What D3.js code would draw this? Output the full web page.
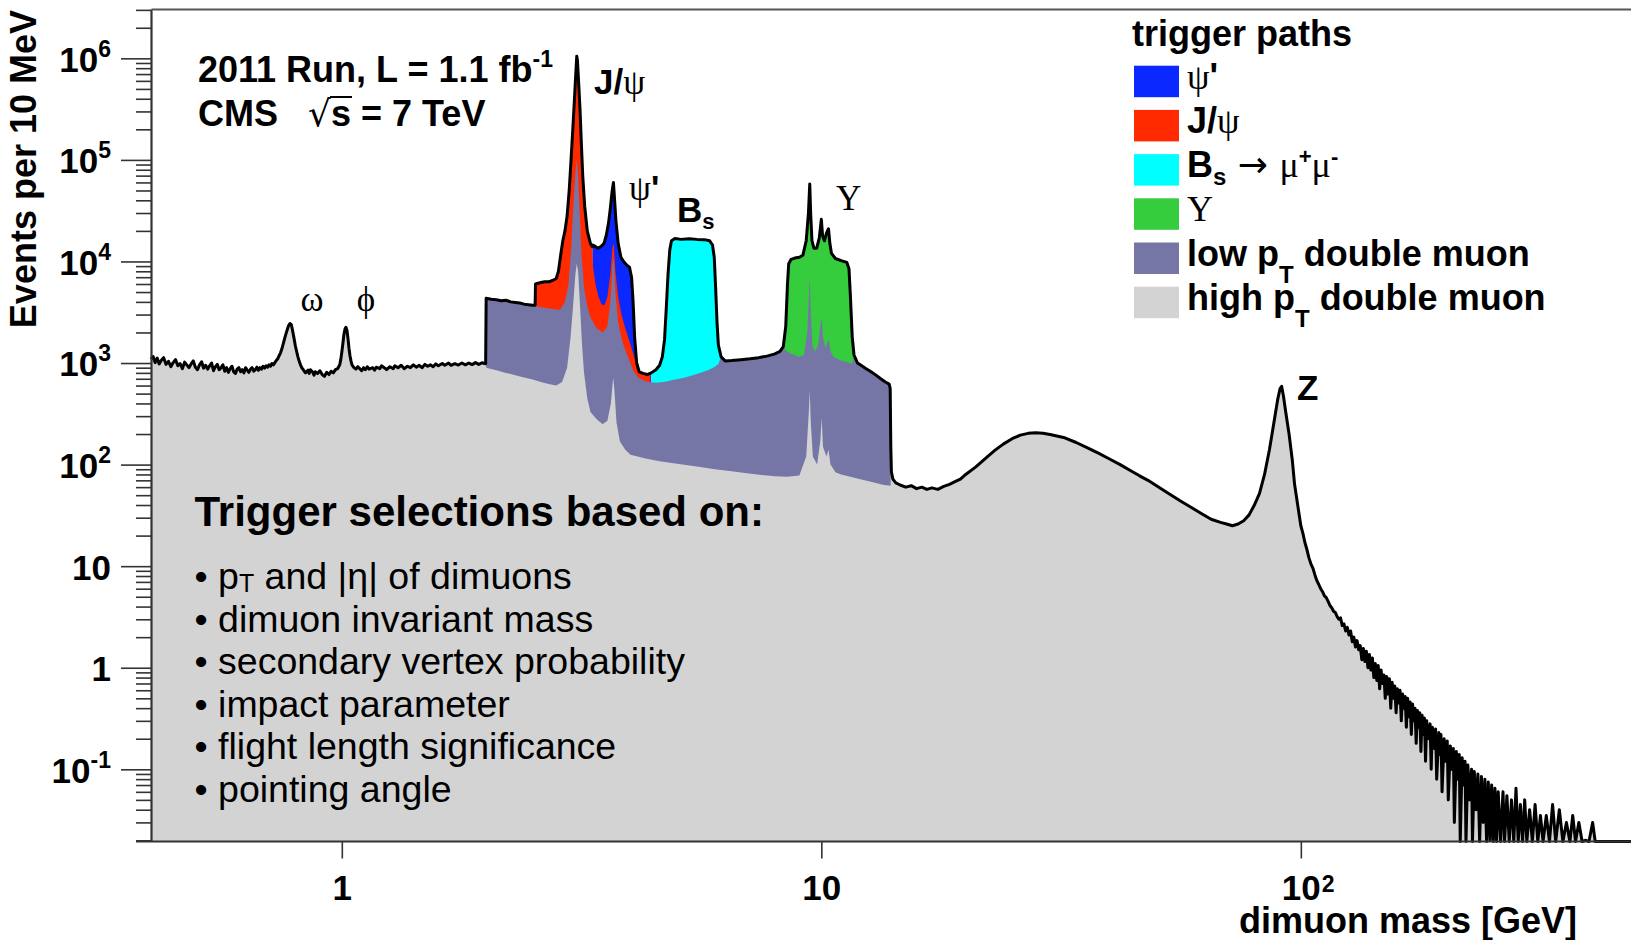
<!DOCTYPE html>
<html>
<head>
<meta charset="utf-8">
<script src="https://cdn.jsdelivr.net/npm/d3@7"></script>
<style>
  body { margin: 0; background: #fff; }
  svg { display: block; background: #fff; }
  text { font-family: "Liberation Sans", Arial, sans-serif; fill: #000; white-space: pre; }
  .serif { font-family: "Liberation Serif", "DejaVu Serif", serif; font-weight: normal; }
  .sym { font-family: "DejaVu Sans", sans-serif; font-weight: normal; }
</style>
</head>
<body>
<div id="chart"></div>
<script>
// dimuon spectrum, all trigger paths stacked: [mass GeV, events per 10 MeV]
var totalSpectrum = [
  [0.400,1090],[0.404,1160],[0.408,1010],[0.412,1120],[0.416,980],[0.42,1060],[0.425,1130],[0.43,970],
  [0.435,1040],[0.44,920],[0.445,1010],[0.45,1080],[0.455,940],[0.46,990],[0.465,880],[0.47,1020],
  [0.475,960],[0.48,900],[0.485,980],[0.49,1050],[0.495,910],[0.50,860],[0.505,960],[0.51,1030],
  [0.515,890],[0.52,950],[0.525,870],[0.53,940],[0.535,1000],[0.54,840],[0.545,920],[0.55,970],
  [0.555,860],[0.56,900],[0.565,960],[0.57,830],[0.575,900],[0.58,810],[0.585,880],[0.59,930],
  [0.595,820],[0.60,790],[0.605,870],[0.61,900],[0.615,820],[0.62,860],[0.625,800],[0.63,900],
  [0.635,850],[0.64,810],[0.645,870],[0.65,900],[0.655,830],[0.66,860],[0.665,910],[0.67,850],
  [0.675,900],[0.68,870],[0.685,930],[0.69,890],[0.695,940],[0.70,910],[0.705,960],[0.71,930],
  [0.715,990],[0.72,960],[0.725,1010],[0.73,1060],[0.735,1100],[0.74,1180],[0.745,1260],[0.75,1380],
  [0.755,1550],[0.76,1750],[0.765,1950],[0.77,2150],[0.775,2350],[0.78,2450],[0.785,2380],[0.79,2050],
  [0.795,1750],[0.80,1480],[0.805,1300],[0.81,1150],[0.815,1040],[0.82,960],[0.825,900],[0.83,870],
  [0.835,830],[0.84,800],[0.85,850],[0.855,790],[0.86,860],[0.87,810],[0.875,760],[0.88,820],
  [0.89,790],[0.90,840],[0.91,770],[0.92,740],[0.93,810],[0.94,770],[0.95,830],[0.96,800],
  [0.97,860],[0.98,880],[0.99,960],[0.995,1080],[1.00,1280],[1.005,1550],[1.01,1900],[1.015,2150],
  [1.02,2250],[1.025,2100],[1.03,1750],[1.035,1400],[1.04,1180],[1.045,1050],[1.05,960],[1.06,900],
  [1.07,870],[1.08,920],[1.09,880],[1.10,840],[1.11,900],[1.12,860],[1.13,920],[1.14,870],
  [1.16,900],[1.17,850],[1.18,910],[1.20,880],[1.21,940],[1.23,890],[1.24,860],[1.26,920],
  [1.28,880],[1.29,940],[1.31,900],[1.33,950],[1.35,880],[1.37,930],[1.39,900],[1.41,960],
  [1.43,910],[1.45,950],[1.47,900],[1.49,970],[1.51,930],[1.53,960],[1.55,920],[1.57,980],
  [1.59,940],[1.62,990],[1.64,950],[1.67,1000],[1.69,950],[1.72,985],[1.75,955],[1.78,1000],
  [1.81,960],[1.84,1000],[1.87,965],[1.90,1010],[1.93,970],[1.96,1005],[1.995,985],
  [2.0,4350],[2.05,4250],[2.1,4200],[2.15,4100],[2.2,4150],[2.25,4000],[2.3,3950],[2.35,3900],
  [2.4,3800],[2.45,3750],[2.5,3700],[2.53,3700],[2.535,6000],[2.6,6200],[2.65,6300],[2.7,6300],
  [2.75,6500],[2.8,6800],[2.83,8000],[2.86,11500],[2.89,16000],[2.92,20000],[2.95,28000],[2.98,50000],
  [3.01,110000],[3.04,250000],[3.07,600000],[3.09,1050000],[3.10,950000],[3.12,550000],[3.14,300000],
  [3.16,140000],[3.18,70000],[3.21,35000],[3.25,20000],[3.30,15000],[3.33,14000],[3.34,14500],
  [3.38,14000],[3.42,13500],[3.47,14000],[3.52,15000],[3.56,18000],[3.60,24000],[3.63,33000],
  [3.66,48000],[3.685,60000],[3.70,45000],[3.73,25000],[3.77,15000],[3.82,11000],[3.87,10000],
  [3.93,9200],[3.98,8800],[4.02,7000],[4.05,4000],[4.08,1800],[4.12,1000],[4.17,820],[4.25,790],
  [4.33,770],[4.42,800],[4.52,860],[4.6,950],[4.66,1150],[4.71,1700],[4.75,3500],[4.79,7500],
  [4.83,13000],[4.87,16000],[4.95,16800],[5.1,16500],[5.3,16700],[5.5,16500],[5.7,16400],
  [5.85,16000],[5.93,14500],[5.98,11000],[6.02,5500],[6.06,2500],[6.1,1500],[6.18,1150],[6.3,1050],
  [6.5,1060],[6.8,1080],[7.1,1100],[7.4,1130],[7.7,1170],[8.0,1230],[8.2,1300],[8.33,1450],
  [8.43,2300],[8.5,6000],[8.55,9500],[8.65,10500],[8.8,10800],[9.0,11000],[9.15,11500],[9.3,16000],
  [9.4,30000],[9.46,58000],[9.5,30000],[9.56,16000],[9.65,13500],[9.78,13500],[9.9,17000],
  [10.0,26000],[10.06,18000],[10.15,16000],[10.25,19000],[10.35,21000],[10.42,15000],[10.5,12000],
  [10.7,10700],[11.0,10200],[11.3,9800],[11.42,8500],[11.5,4500],[11.6,1800],[11.7,1200],
  [11.9,1000],[12.1,950],[12.4,880],[12.7,820],[13.0,760],[13.3,700],[13.6,650],[13.85,620],
  [13.92,560],[13.96,150],[14.0,85],[14.1,72],[14.3,66],[14.6,63],[15.0,60],[15.4,62],[15.8,58],
  [16.2,60],[16.6,57],[17.0,59],[17.5,57],[18.0,61],[18.5,64],[19.0,68],[19.5,72],[20.0,80],
  [21.0,95],[22.0,115],[23.0,138],[24.0,160],[25.0,180],[26.0,195],[27.0,203],[28.0,206],
  [29.0,204],[30.0,198],[32.0,185],[34.0,165],[36.0,145],[38.0,128],[40.0,113],[42.0,100],
  [44.0,88],[46.0,78],[48.0,70],[50.0,62],[53.0,52],[56.0,44],[59.0,38],[62.0,33],[65.0,29],
  [68.0,27],[70.0,26],[72.0,25],[74.0,26],[76.0,28],[78.0,32],[80.0,40],[82.0,52],[84.0,80],
  [86.0,140],[88.0,270],[89.5,440],[90.5,560],[91.2,590],[92.0,470],[93.0,330],[94.5,200],
  [96,110],[97,65],[98.5,40],[100,25],[101,21],[102,17],[103,14.5],[104,12],[105,10.5],[106,9.5],
  [107,8.2],[108,7.2],[109,6.6],[110,6],[111,5.6],[112,5.1],[113,4.9],[114,4.5],[115,4.1],[116,3.9],
  [117,3.6],[118,3.5],[119,3.2],[120,3.0],[121,3.1],[122,2.6],[123,2.7],[124,2.3],[125,2.5],
  [126,2.1],[127,2.3],[128,1.8],[129,2.0],[130,1.6],[131,1.85],[132,1.5],[133,1.65],[134,1.2],
  [135,1.55],[136,1.15],[137,1.45],[138,1.0],[139,1.35],[140,0.95],[141,1.25],[142,0.8],[143,1.1],
  [144,0.75],[145,1.05],[146,0.62],[147,0.95],[148,0.7],[149,0.85],[150,0.5],[151,0.82],[152,0.55],
  [153,0.78],[154,0.4],[155,0.72],[156,0.5],[157,0.66],[158,0.36],[159,0.62],[160,0.45],[161,0.6],
  [162,0.3],[163,0.55],[164,0.4],[165,0.52],[166,0.26],[167,0.5],[168,0.33],[169,0.46],[170,0.22],
  [171,0.44],[172,0.3],[173,0.4],[174,0.18],[175,0.38],[176,0.26],[177,0.36],[178,0.15],[179,0.34],
  [180,0.22],[181,0.32],[182,0.12],[183,0.3],[184,0.2],[186,0.28],[187,0.1],[188,0.26],[190,0.16],
  [191,0.25],[192,0.08],[194,0.23],[195,0.14],[196,0.22],[197,0.06],[199,0.2],[200,0.12],[202,0.19],
  [203,0.05],[205,0.17],[206,0.1],[208,0.16],[209,0.03],[211,0.15],[212,0.08],[214,0.14],[215,0],
  [217,0.13],[218,0.07],[220,0.12],[221,0],[223,0.11],[225,0.05],[227,0.1],[228,0],[230,0.095],
  [232,0.04],[234,0.09],[236,0],[238,0.085],[240,0.03],[242,0.08],[244,0],[246,0.075],[248,0.02],
  [250,0.07],[252,0],[254,0.065],[256,0.015],[258,0.06],[261,0],[264,0.06],[266,0],[269,0.055],
  [272,0.01],[275,0.05],[278,0],[281,0.065],[284,0],[287,0.045],[290,0.01],[293,0.05],[296,0],
  [300,0.04],[304,0],[308,0.045],[312,0],[316,0.035],[320,0.01],[325,0.035],[330,0],[335,0.045],
  [340,0],[346,0.04],[352,0],[358,0.03],[364,0],[369,0.035],[374,0],[380,0.03],[386,0],[393,0.02],
  [399,0],[406,0.03],[411,0],[500,0]
];

// J/psi path stacked top where it hides under the psi' path
var jpsiUnderPsiPrime = [
  [3.34,9000],[3.38,6000],[3.43,4500],[3.48,3800],[3.53,3700],[3.58,4500],[3.63,7500],[3.67,14000],
  [3.69,15000],[3.72,8000],[3.77,4500],[3.83,3000],[3.9,2200],[3.97,1700],[4.05,1250],[4.12,950],
  [4.2,820],[4.3,780],[4.4,770]
];

// low pT double muon stacked top where trigger paths sit above it
var lowPtUnderTriggers = [
  [2.55,3600],[2.65,3500],[2.75,3400],[2.85,3350],[2.92,4000],[2.97,6000],[3.01,14000],[3.04,35000],
  [3.07,75000],[3.09,100000],[3.11,70000],[3.13,35000],[3.16,12000],[3.2,5500],[3.25,3600],[3.3,2800],
  [3.4,2200],[3.5,2000],[3.58,2300],[3.63,4000],[3.67,9000],[3.69,11000],[3.72,5000],[3.77,2500],
  [3.85,1600],[3.95,1150],[4.05,850],[4.15,720],[4.3,660],[4.5,640],[4.7,650],[4.9,680],[5.2,720],
  [5.5,780],[5.8,850],[6.0,920],[6.1,980],
  [8.4,1350],[8.6,1250],[8.8,1200],[9.0,1150],[9.2,1200],[9.35,2000],[9.42,4500],[9.46,7000],
  [9.5,3500],[9.58,1500],[9.7,1300],[9.85,1500],[9.97,2500],[10.02,2800],[10.08,1800],[10.2,1400],
  [10.3,1600],[10.36,1700],[10.45,1300],[10.6,1150],[10.9,1080],[11.2,1030],[11.5,1000],[11.6,990]
];

// high pT double muon inside the 2-14 GeV window
var highPtInner = [
  [2.0,900],[2.1,850],[2.2,800],[2.3,760],[2.4,720],[2.5,690],[2.6,650],[2.7,620],[2.8,600],
  [2.88,650],[2.95,900],[3.0,1800],[3.04,4000],[3.07,7500],[3.09,9500],[3.11,8000],[3.14,3500],
  [3.17,1500],[3.2,800],[3.25,450],[3.3,330],[3.4,280],[3.5,250],[3.58,270],[3.64,400],[3.68,720],
  [3.7,560],[3.74,260],[3.8,170],[3.9,140],[4.0,125],[4.3,115],[4.6,108],[5.0,102],[5.5,96],
  [6.0,90],[6.5,86],[7.0,82],[7.5,79],[8.0,77],[8.5,76],[9.0,78],[9.3,120],[9.42,340],
  [9.46,540],[9.5,280],[9.6,120],[9.8,100],[9.95,170],[10.02,290],[10.08,150],[10.25,120],
  [10.35,140],[10.45,100],[10.7,84],[11.0,80],[11.5,76],[12.0,72],[12.5,69],[13.0,66],[13.5,63],
  [13.96,62]
];

var yTickValues = [1e-1, 1, 10, 1e2, 1e3, 1e4, 1e5, 1e6];
var yTickBase = ['10', '1', '10', '10', '10', '10', '10', '10'];
var yTickExp = ['-1', '', '', '2', '3', '4', '5', '6'];
var xTickValues = [1, 10, 100];
var xTickBase = ['1', '10', '10'];
var xTickExp = ['', '', '2'];

var legendColors = ['#0a28ff', '#ff2a00', '#00ffff', '#35cc3d', '#7676a6', '#d3d3d3'];
var selectionLines = ['dimuon invariant mass', 'secondary vertex probability', 'impact parameter',
  'flight length significance', 'pointing angle'];

var W = 1631, H = 940;
var svg = d3.select('#chart').append('svg').attr('width', W).attr('height', H);

var x = d3.scaleLog().domain([0.4, 500]).range([151, 1636]);
var y = d3.scaleLog().domain([0.01946, 3.06e6]).range([841.5, 9]);
var yMin = y.domain()[0];
var bottom = y.range()[0];

function between(lo, hi) {
    return function (d) { return d[0] >= lo && d[0] <= hi; };
}
function byMass(a, b) { return a[0] - b[0]; }
var yv = function (d) { return y(Math.max(d[1], yMin)); };

var area = d3.area().x(function (d) { return x(d[0]); }).y0(bottom).y1(yv);
var line = d3.line().x(function (d) { return x(d[0]); }).y(yv);

// stacked layers, drawn from the top of the stack down
var layers = [
    { color: legendColors[0], data: totalSpectrum.filter(between(3.33, 4.5)) },
    { color: legendColors[1], data: totalSpectrum.filter(between(2.535, 3.33)).concat(jpsiUnderPsiPrime) },
    { color: legendColors[2], data: totalSpectrum.filter(between(4.42, 6.4)) },
    { color: legendColors[3], data: totalSpectrum.filter(between(8.33, 11.7)) },
    { color: legendColors[4], data: totalSpectrum.filter(function (d) {
            return (d[0] >= 2.0 && d[0] <= 2.53) || (d[0] >= 6.15 && d[0] <= 8.34) || (d[0] >= 11.65 && d[0] <= 13.96);
        }).concat(lowPtUnderTriggers).sort(byMass) },
    { color: legendColors[5], data: totalSpectrum.filter(function (d) { return d[0] < 2.0; })
            .concat(highPtInner, totalSpectrum.filter(function (d) { return d[0] >= 14.0; })) }
];

var plot = svg.append('g');
plot.selectAll('path.layer')
    .data(layers)
    .enter()
    .append('path')
    .attr('class', 'layer')
    .attr('d', function (l) { return area(l.data); })
    .attr('fill', function (l) { return l.color; });

plot.append('path')
    .attr('d', line(totalSpectrum))
    .attr('fill', 'none')
    .attr('stroke', '#000')
    .attr('stroke-width', 3)
    .attr('stroke-linejoin', 'round');

// axes
function styleAxis(g) {
    g.attr('font-family', null).attr('font-size', null).attr('color', '#333');
    g.selectAll('line').attr('stroke-width', 1.6);
    g.select('.domain').attr('stroke-width', 2.2);
}

var minorY = [];
for (var k = -2; k <= 6; k++) {
    for (var j = 2; j <= 9; j++) {
        var v = j * Math.pow(10, k);
        if (v > yMin && v < y.domain()[1]) minorY.push(v);
    }
}

svg.append('g')
    .attr('transform', 'translate(' + x.range()[0] + ',0)')
    .call(d3.axisLeft(y).tickValues(minorY).tickSize(15).tickSizeOuter(0).tickFormat(''))
    .call(styleAxis)
    .select('.domain').remove();

var yAxis = svg.append('g')
    .attr('transform', 'translate(' + x.range()[0] + ',0)')
    .call(d3.axisLeft(y).tickValues(yTickValues).tickSize(30).tickSizeOuter(0).tickPadding(10))
    .call(styleAxis);

yAxis.selectAll('.tick text').each(function (d, i) {
    var t = d3.select(this).text('').attr('dy', '0.37em')
        .attr('font-size', 35).attr('font-weight', 'bold');
    t.append('tspan').text(yTickBase[i]);
    if (yTickExp[i]) t.append('tspan').attr('dy', -15).attr('font-size', 23).text(yTickExp[i]);
});

// top frame line
svg.append('g')
    .attr('transform', 'translate(0,' + y.range()[1] + ')')
    .call(d3.axisTop(x).tickValues([]).tickSizeOuter(0))
    .call(styleAxis)
    .select('.domain').attr('stroke', '#555');

var xAxis = svg.append('g')
    .attr('transform', 'translate(0,' + bottom + ')')
    .call(d3.axisBottom(x).tickValues(xTickValues).tickSize(17).tickSizeOuter(0).tickPadding(17))
    .call(styleAxis);

xAxis.select('.domain').attr('d', 'M' + (x.range()[0] - 15) + ',0H' + x.range()[1]);

xAxis.selectAll('.tick text').each(function (d, i) {
    d3.select(this).text(xTickBase[i]).attr('font-size', 35).attr('font-weight', 'bold');
    if (xTickExp[i]) {
        var half = this.getComputedTextLength() / 2;
        d3.select(this.parentNode).append('text')
            .attr('x', half + 1).attr('y', 50)
            .attr('text-anchor', 'start')
            .attr('font-size', 23).attr('font-weight', 'bold')
            .attr('fill', '#000').text(xTickExp[i]);
    }
});

// axis titles
svg.append('text')
    .attr('x', 1577).attr('y', 933)
    .attr('text-anchor', 'end')
    .attr('font-size', 36).attr('font-weight', 'bold')
    .text('dimuon mass [GeV]');

svg.append('text')
    .attr('transform', 'rotate(-90)')
    .attr('x', -10).attr('y', 36)
    .attr('text-anchor', 'end')
    .attr('font-size', 36).attr('font-weight', 'bold')
    .text('Events per 10 MeV');

// rich text helper: parts are {t, cls, shift, small}
function rich(sel, parts) {
    var off = 0;
    parts.forEach(function (p) {
        var want = p.shift || 0;
        var ts = sel.append('tspan').attr('dy', want - off).text(p.t);
        off = want;
        if (p.cls) ts.attr('class', p.cls);
        if (p.small) ts.attr('font-size', p.small);
    });
    return sel;
}

// run info
var info = svg.append('g').attr('font-size', 36).attr('font-weight', 'bold');
rich(info.append('text').attr('x', 198).attr('y', 82),
    [{ t: '2011 Run, L = 1.1 fb' }, { t: '-1', shift: -15, small: 23 }]);
var cms = rich(info.append('text').attr('x', 198).attr('y', 126),
    [{ t: 'CMS   ' }, { t: '\u221A', cls: 'sym' }, { t: 's' }, { t: ' = 7 TeV' }]);
// bar of the square root over the s
var cmsNode = cms.node();
var rootEnd = cmsNode.getEndPositionOfChar(6).x;
var sEnd = cmsNode.getEndPositionOfChar(7).x;
info.append('line')
    .attr('x1', rootEnd - 1).attr('x2', sEnd + 1)
    .attr('y1', 126 - 29).attr('y2', 126 - 29)
    .attr('stroke', '#000').attr('stroke-width', 2);

// peak labels
var peaks = svg.append('g').attr('font-size', 35).attr('font-weight', 'bold');
rich(peaks.append('text').attr('x', 312).attr('y', 311).attr('text-anchor', 'middle'),
    [{ t: '\u03C9', cls: 'serif' }]);
rich(peaks.append('text').attr('x', 366).attr('y', 311).attr('text-anchor', 'middle'),
    [{ t: '\u03D5', cls: 'serif' }]);
rich(peaks.append('text').attr('x', 594).attr('y', 94),
    [{ t: 'J/' }, { t: '\u03C8', cls: 'serif' }]);
rich(peaks.append('text').attr('x', 629).attr('y', 200),
    [{ t: '\u03C8', cls: 'serif' }, { t: '\'' }]);
rich(peaks.append('text').attr('x', 677).attr('y', 222),
    [{ t: 'B' }, { t: 's', shift: 7, small: 22 }]);
rich(peaks.append('text').attr('x', 836).attr('y', 210),
    [{ t: '\u03A5', cls: 'serif' }]);
rich(peaks.append('text').attr('x', 1297).attr('y', 400),
    [{ t: 'Z' }]);

// legend
var legendParts = [
    [{ t: '\u03C8', cls: 'serif' }, { t: '\'' }],
    [{ t: 'J/' }, { t: '\u03C8', cls: 'serif' }],
    [{ t: 'B' }, { t: 's', shift: 8, small: 24 }, { t: ' \u2192 ', cls: 'sym' }, { t: '\u03BC', cls: 'serif' },
        { t: '+', shift: -13, small: 22 }, { t: '\u03BC', cls: 'serif' }, { t: '-', shift: -13, small: 22 }],
    [{ t: '\u03A5', cls: 'serif' }],
    [{ t: 'low p' }, { t: 'T', shift: 17, small: 24 }, { t: ' double muon' }],
    [{ t: 'high p' }, { t: 'T', shift: 17, small: 24 }, { t: ' double muon' }]
];

var legend = svg.append('g').attr('font-size', 36).attr('font-weight', 'bold');
legend.append('text').attr('x', 1132).attr('y', 46).text('trigger paths');

var rows = legend.selectAll('.legend')
    .data(legendParts)
    .enter()
    .append('g')
    .attr('class', 'legend')
    .attr('transform', function (d, i) { return 'translate(1134,' + (65.7 + i * 44.2) + ')'; });

rows.append('rect')
    .attr('width', 45)
    .attr('height', 31.5)
    .attr('fill', function (d, i) { return legendColors[i]; });

rows.append('text')
    .attr('x', 53)
    .attr('y', 23)
    .each(function (d) { rich(d3.select(this), d); });

// trigger selection notes
var notes = svg.append('g');
notes.append('text')
    .attr('x', 194.5).attr('y', 526)
    .attr('font-size', 42).attr('font-weight', 'bold')
    .text('Trigger selections based on:');

rich(notes.append('text').attr('x', 194.5).attr('y', 589).attr('font-size', 37.5),
    [{ t: '\u2022 p' }, { t: 'T', shift: 3, small: 25 }, { t: ' and |\u03B7| of dimuons' }]);

notes.selectAll('.sel')
    .data(selectionLines)
    .enter()
    .append('text')
    .attr('class', 'sel')
    .attr('x', 194.5)
    .attr('y', function (d, i) { return 589 + (i + 1) * 42.5; })
    .attr('font-size', 37.5)
    .text(function (d) { return '\u2022 ' + d; });
</script>
</body>
</html>
